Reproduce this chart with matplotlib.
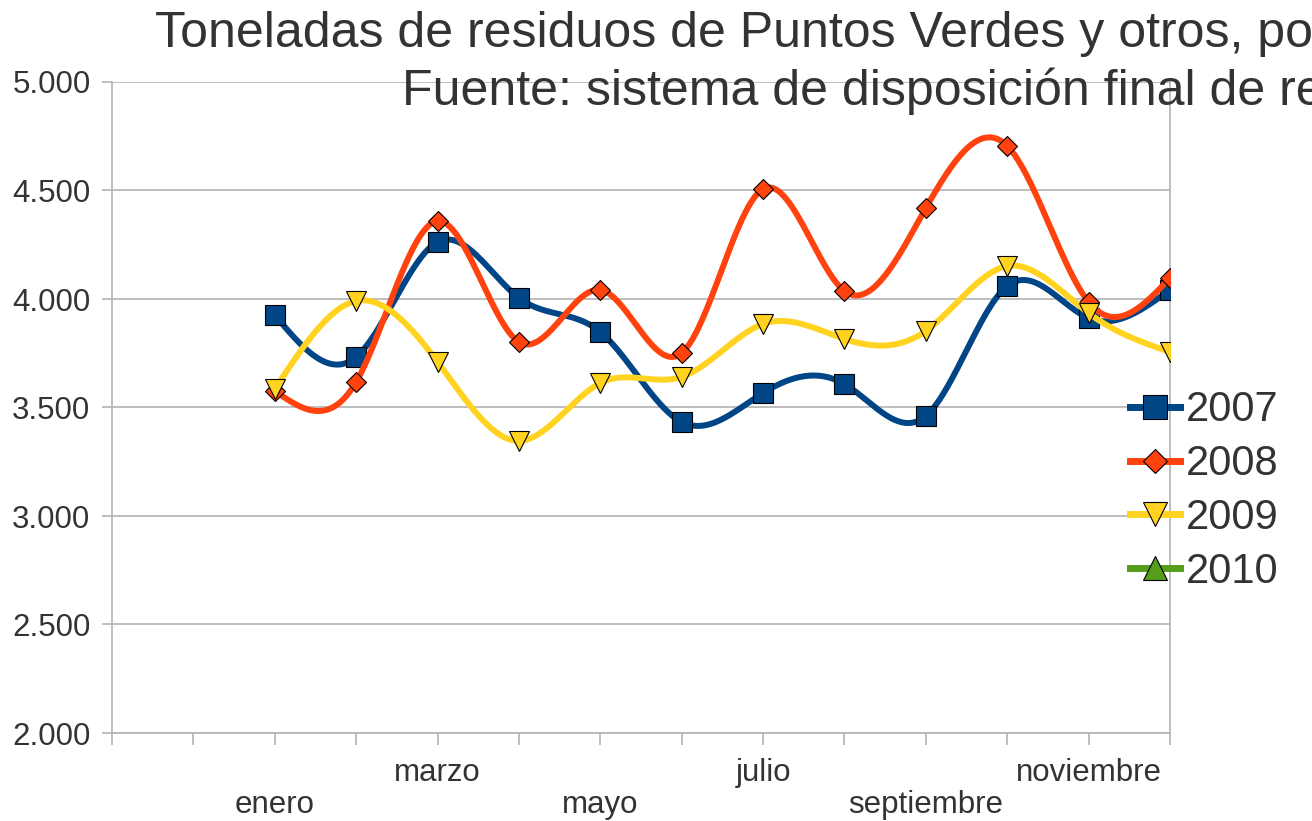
import numpy as np
import matplotlib
matplotlib.use("Agg")
import matplotlib.pyplot as plt
from matplotlib.ticker import FuncFormatter

plt.rcParams['font.family'] = ['Liberation Sans', 'DejaVu Sans']

# datos (toneladas por mes)
meses = ['enero', 'febrero', 'marzo', 'abril', 'mayo', 'junio', 'julio',
         'agosto', 'septiembre', 'octubre', 'noviembre', 'diciembre']
t2007 = [3926, 3733, 4263, 4005, 3848, 3433, 3567, 3608, 3461, 4060, 3912, 4042]
t2008 = [3576, 3618, 4359, 3802, 4042, 3751, 4507, 4037, 4419, 4705, 3986, 4097]
t2009 = [3585, 3991, 3710, 3346, 3613, 3641, 3885, 3816, 3853, 4152, 3935, 3756]
t2010 = []

titulo1 = "Toneladas de residuos de Puntos Verdes y otros, por mes"
titulo2 = "Fuente: sistema de disposición final de residuos"


def spline(x, y, xs):
    # spline cubico natural, solo para suavizar la linea
    x = np.asarray(x, float)
    y = np.asarray(y, float)
    n = len(x)
    h = np.diff(x)
    A = np.zeros((n, n))
    b = np.zeros(n)
    A[0, 0] = 1
    A[-1, -1] = 1
    for i in range(1, n - 1):
        A[i, i - 1] = h[i - 1]
        A[i, i] = 2 * (h[i - 1] + h[i])
        A[i, i + 1] = h[i]
        b[i] = 6 * ((y[i + 1] - y[i]) / h[i] - (y[i] - y[i - 1]) / h[i - 1])
    M = np.linalg.solve(A, b)
    out = np.zeros_like(xs)
    for k, xv in enumerate(xs):
        i = min(max(np.searchsorted(x, xv) - 1, 0), n - 2)
        t0 = x[i + 1] - xv
        t1 = xv - x[i]
        out[k] = (M[i] * t0 ** 3 + M[i + 1] * t1 ** 3) / (6 * h[i]) \
            + (y[i] / h[i] - M[i] * h[i] / 6) * t0 \
            + (y[i + 1] / h[i] - M[i + 1] * h[i] / 6) * t1
    return out


fig = plt.figure(figsize=(13.12, 8.21), dpi=100)
ax = fig.add_axes([112 / 1312, 1 - 733 / 821, (1170 - 112) / 1312, (733 - 82) / 821])

gris = '#b3b3b3'
x = np.arange(len(meses))
xs = np.linspace(0, len(meses) - 1, 600)

series = [
    ('2007', t2007, '#004586', 's', 14.5),
    ('2008', t2008, '#ff420e', 'D', 10),
    ('2009', t2009, '#ffd320', 'v', 14),
    ('2010', t2010, '#579d1c', '^', 14),
]
handles = []
for i, (nombre, vals, color, mk, ms) in enumerate(series):
    if len(vals) > 0:
        ax.plot(xs, spline(x, vals, xs), color=color, lw=4.3, zorder=3 + i,
                solid_capstyle='round')
        ax.plot(x, vals, ls='none', marker=mk, ms=ms, mfc=color, mec='black',
                mew=0.8, zorder=3 + i)
    h, = ax.plot([], [], color=color, lw=5, marker=mk, ms=ms * 1.2, mfc=color,
                 mec='black', mew=0.8, label=nombre)
    handles.append(h)

ax.set_xlim(-2, len(meses) - 1)
ax.set_ylim(2000, 5000)
ax.set_yticks(np.arange(2000, 5001, 500))
ax.yaxis.set_major_formatter(FuncFormatter(lambda v, p: f"{int(v):,}".replace(',', '.')))
ax.grid(axis='y', color=gris, lw=1.2)
ax.set_axisbelow(True)

ax.set_xticks(np.arange(-2, len(meses)))
etiquetas = ['', '']
for i, m in enumerate(meses):
    if i % 2 == 0:
        etiquetas.append(('\n' + m) if i % 4 == 0 else m)
    else:
        etiquetas.append('')
ax.set_xticklabels(etiquetas, linespacing=1.1)

for s in ax.spines.values():
    s.set_color(gris)
    s.set_linewidth(1.2)
ax.spines['top'].set_visible(False)
ax.tick_params(axis='both', colors=gris, width=1.2, labelcolor='#333333')
ax.tick_params(axis='x', labelsize=22.5, length=8.6, pad=9.5)
ax.tick_params(axis='y', labelsize=22.5, length=7.5, pad=8)

leg = fig.legend(handles=handles, loc='center left',
                 bbox_to_anchor=(1109 / 1312, 1 - 491 / 821),
                 frameon=False, fontsize=30, handlelength=1.2,
                 handletextpad=0.15, labelspacing=0.33, borderpad=0)
for t in leg.get_texts():
    t.set_color('#333333')

fig.text(155 / 1312, 1 - 47 / 821, titulo1, fontsize=36.1, color='#333333',
         ha='left', va='baseline')
fig.text(402 / 1312, 1 - 105 / 821, titulo2, fontsize=36.1, color='#333333',
         ha='left', va='baseline')

fig.savefig('out.png', dpi=100)
